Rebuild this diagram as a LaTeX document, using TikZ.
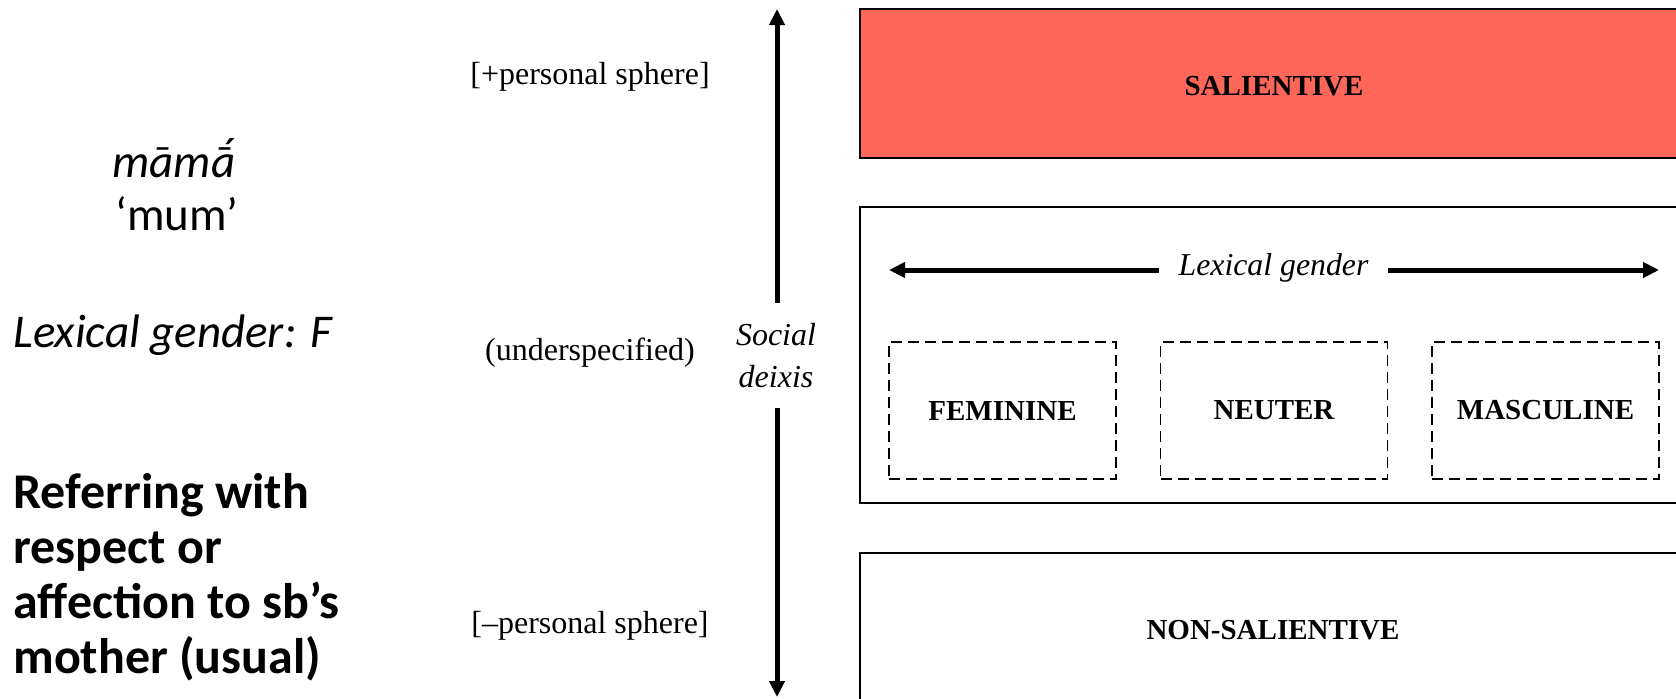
\documentclass[tikz,border=0pt]{standalone}
\usepackage{fontspec}
\setmainfont{Liberation Serif}
\newfontfamily\carl{Carlito}
\usetikzlibrary{arrows.meta}
\definecolor{salred}{RGB}{255,102,90}
\newcommand\macacute[1]{\leavevmode\ooalign{#1\cr\hidewidth\kern0.12em\raisebox{0.13em}{´}\hidewidth\cr}}
\begin{document}
\begin{tikzpicture}[x=0.5pt,y=-0.5pt,
  arr/.style={line width=2.5pt,-{Triangle[length=8pt,width=7.5pt]}},
  bigbox/.style={draw,line width=1pt},
  dbox/.style={draw,line width=0.8pt,dash pattern=on 5.5pt off 3pt,minimum width=113.5pt,minimum height=68.5pt,inner sep=0pt},
  lab/.style={font=\fontsize{14.5}{17}\selectfont\bfseries,inner sep=0pt},
  side/.style={font=\fontsize{16}{19}\selectfont,inner sep=0pt},
  lt/.style={font=\carl\fontsize{23.5}{27.5}\selectfont,inner sep=0pt},
  ltb/.style={font=\carl\fontsize{25}{27.5}\selectfont\bfseries,inner sep=0pt,anchor=base west}
]
\path[use as bounding box,clip] (0,0) rectangle (1676,698);

% big boxes
\draw[bigbox,fill=salred] (860,9) rectangle (1700,158);
\draw[bigbox] (860,207) rectangle (1700,503);
\draw[bigbox] (860,553) rectangle (1700,720);

\node[lab] (sal) at (1274,86) {SALIENTIVE};
\node[lab] (nonsal) at (1273,630) {NON-SALIENTIVE};

% lexical gender arrow
\node[font=\fontsize{15.9}{19}\selectfont\itshape,minimum width=114.5pt,inner sep=0pt] (lg) at (1273.5,268) {Lexical gender};
\coordinate (lgL) at (889,270);
\coordinate (lgR) at (1659,270);
\draw[arr] (lg.west|-lgL) -- (lgL);
\draw[arr] (lg.east|-lgR) -- (lgR);

% dashed boxes
\node[dbox,lab] (fem) at (1002.5,410.5) {FEMININE};
\node[dbox,lab] (neu) at (1274,410.5) {NEUTER};
\node[dbox,lab] (mas) at (1545.5,410.5) {MASCULINE};

% social deixis axis
\node[font=\fontsize{16}{21}\selectfont\itshape,align=center,minimum height=52.5pt,inner sep=0pt] (sd) at (776,355.5) {Social\\deixis};
\coordinate (vtop) at (777,9);
\coordinate (vbot) at (777,697);
\draw[arr] (sd.north-|vtop) -- (vtop);
\draw[arr] (sd.south-|vbot) -- (vbot);

\node[side] (plus) at (590,77) {[+personal sphere]};
\node[side] (under) at (590,353) {(underspecified)};
\node[side] (minus) at (590,626) {[–personal sphere]};

% left texts
\node[lt,anchor=base] (mama) at (174,177) {\itshape mām\macacute{ā}};
\node[lt,anchor=base] (mum) at (177,230) {‘mum’};
\node[lt,anchor=base west] (lexf) at (13,347) {\itshape Lexical gender: F};
\node[ltb] (refer) at (13,508) {Referring with};
\node[ltb] (refer2) at (13,563) {respect or};
\node[ltb] (refer3) at (13,618) {affection to sb’s};
\node[ltb] (refer4) at (13,673) {mother (usual)};
\end{tikzpicture}
\end{document}
